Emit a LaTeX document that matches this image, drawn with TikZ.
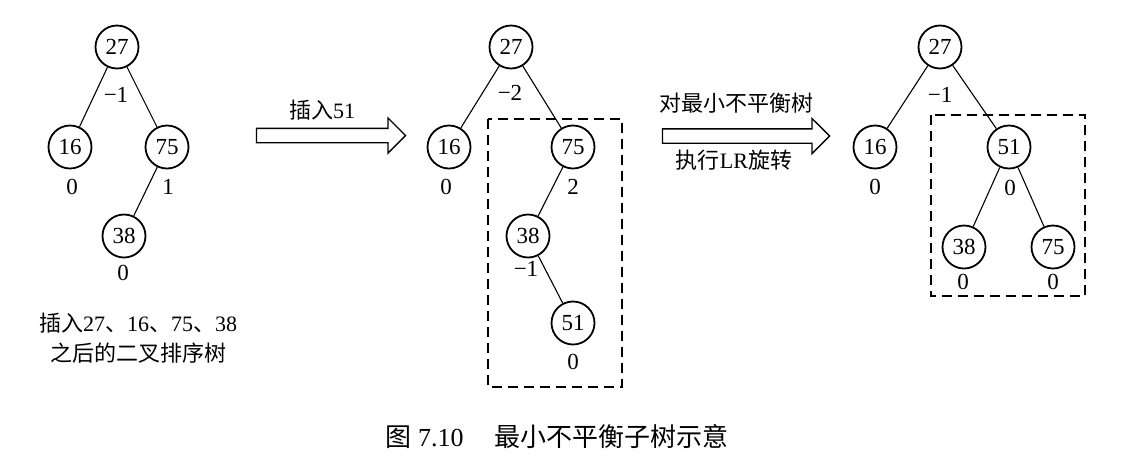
\documentclass[tikz,border=0pt]{standalone}
\usepackage{fontspec}
\setmainfont{Liberation Serif}
\newfontfamily\cjk{Noto Sans CJK SC}
\usetikzlibrary{shapes.arrows}

\begin{document}
\begin{tikzpicture}[x=10pt, y=-10pt,
    keynode/.style={draw, circle, line width=1.8pt, minimum size=43pt, inner sep=0pt, font=\fontsize{23}{23}\selectfont},
    bal/.style={font=\fontsize{23}{23}\selectfont},
    link/.style={line width=1.1pt},
    subtree/.style={line width=1.3pt, dash pattern=on 10pt off 6pt},
    fatarrow/.style={draw, single arrow, line width=1.3pt, inner xsep=0pt, inner ysep=6.5pt, single arrow head extend=10.5pt},
    note/.style={font=\fontsize{22}{30}\selectfont, align=center}]
    \useasboundingbox (0,0) rectangle (114.5,45.6);

    % Tree after inserting 27, 16, 75, 38
    \node[keynode] (a27) at (11.7,4.7) {27};
    \node[keynode] (a16) at (7.0,14.7) {16};
    \node[keynode] (a75) at (16.7,14.7) {75};
    \node[keynode] (a38) at (12.4,23.6) {38};
    \draw[link] (a27) -- (a16);
    \draw[link] (a27) -- (a75);
    \draw[link] (a75) -- (a38);
    \node[bal] (fa27) at (11.6,9.5) {−1};
    \node[bal] (fa16) at (7.2,18.7) {0};
    \node[bal] (fa75) at (16.8,18.7) {1};
    \node[bal] (fa38) at (12.3,27.3) {0};
    \node[note] (capa) at (13.8,33.8) {{\cjk 插入}27{\cjk 、}16{\cjk 、}75{\cjk 、}38\\{\cjk 之后的二叉排序树}};

    % Insert 51
    \node[fatarrow, minimum height=149pt] (ins) at (32.75,13.55) {};
    \node[note] (insl) at (32.2,11.0) {{\cjk 插入}51};

    % Tree after inserting 51
    \node[keynode] (b27) at (51.1,4.7) {27};
    \node[keynode] (b16) at (44.9,14.7) {16};
    \node[keynode] (b75) at (57.3,14.7) {75};
    \node[keynode] (b38) at (52.8,23.6) {38};
    \node[keynode] (b51) at (57.3,32.3) {51};
    \draw[link] (b27) -- (b16);
    \draw[link] (b27) -- (b75);
    \draw[link] (b75) -- (b38);
    \draw[link] (b38) -- (b51);
    \node[bal] (fb27) at (51.0,9.3) {−2};
    \node[bal] (fb16) at (44.6,18.7) {0};
    \node[bal] (fb75) at (57.3,18.7) {2};
    \node[bal] (fb38) at (52.6,26.9) {−1};
    \node[bal] (fb51) at (57.3,36.2) {0};
    \draw[subtree] (48.8,11.9) rectangle (62.2,38.7);

    % LR rotation
    \node[fatarrow, minimum height=167pt] (rot) at (74.25,13.6) {};
    \node[note] (rotl) at (73.6,10.3) {\cjk 对最小不平衡树};
    \node[note] (rotm) at (73.4,16.0) {{\cjk 执行}LR{\cjk 旋转}};

    % Tree after rotation
    \node[keynode] (c27) at (94.0,4.7) {27};
    \node[keynode] (c16) at (87.5,14.7) {16};
    \node[keynode] (c51) at (100.9,14.7) {51};
    \node[keynode] (c38) at (96.4,24.7) {38};
    \node[keynode] (c75) at (105.3,24.7) {75};
    \draw[link] (c27) -- (c16);
    \draw[link] (c27) -- (c51);
    \draw[link] (c51) -- (c38);
    \draw[link] (c51) -- (c75);
    \node[bal] (fc27) at (94.0,9.5) {−1};
    \node[bal] (fc16) at (87.5,18.7) {0};
    \node[bal] (fc51) at (101.0,18.8) {0};
    \node[bal] (fc38) at (96.3,28.2) {0};
    \node[bal] (fc75) at (105.3,28.2) {0};
    \draw[subtree] (93.1,11.5) rectangle (108.5,29.6);

    % Caption
    \node[anchor=west, font=\fontsize{26}{26}\selectfont] (fig) at (38.2,43.7) {{\cjk 图} 7.10\hspace{1.2em}{\cjk 最小不平衡子树示意}};
\end{tikzpicture}
\end{document}
